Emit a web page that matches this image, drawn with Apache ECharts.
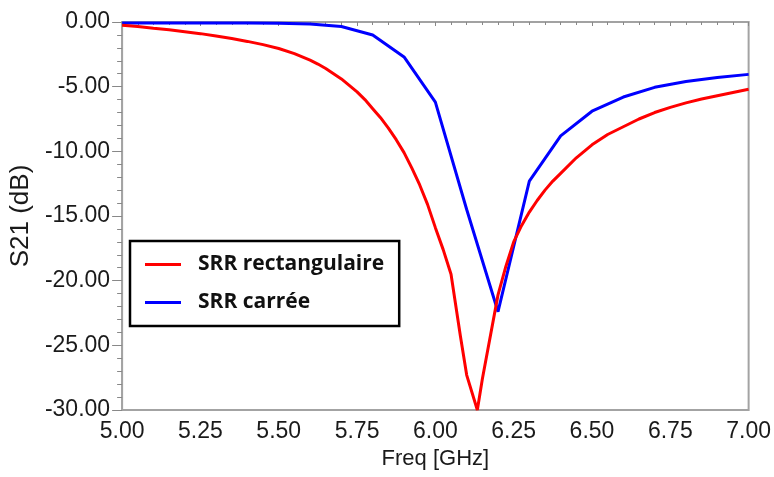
<!DOCTYPE html>
<html>
<head>
<meta charset="utf-8">
<script src="https://cdn.jsdelivr.net/npm/echarts@6/dist/echarts.min.js"></script>
<style>
html,body{margin:0;padding:0;background:#fff;}
#chart{width:774px;height:477px;}
</style>
</head>
<body>
<div id="chart"></div>
<script>
// Series names
const seriesNames = ['SRR rectangulaire', 'SRR carrée'];

// SRR rectangulaire (red)
const freqRect = [5.00,5.05,5.10,5.15,5.20,5.25,5.30,5.35,5.40,5.45,5.50,5.55,5.60,5.625,5.65,5.675,5.70,5.725,5.75,5.775,5.80,5.825,5.85,5.875,5.90,5.925,5.95,5.975,6.00,6.025,6.05,6.08,6.10,6.134,6.15,6.20,6.225,6.25,6.275,6.30,6.325,6.35,6.375,6.40,6.45,6.50,6.55,6.60,6.65,6.70,6.75,6.80,6.85,6.90,6.95,7.00];
const s21Rect  = [-0.25,-0.35,-0.48,-0.6,-0.75,-0.9,-1.08,-1.28,-1.5,-1.75,-2.05,-2.45,-2.95,-3.25,-3.6,-4.0,-4.4,-4.9,-5.4,-6.0,-6.7,-7.4,-8.2,-9.1,-10.1,-11.3,-12.6,-14.1,-15.9,-17.6,-19.5,-24.3,-27.3,-30.0,-27.6,-21.1,-18.9,-17.0,-15.75,-14.7,-13.8,-13.0,-12.3,-11.7,-10.5,-9.5,-8.7,-8.1,-7.5,-7.0,-6.6,-6.25,-5.95,-5.7,-5.45,-5.2];

// SRR carrée (blue)
const freqSq = [5.00,5.10,5.20,5.30,5.40,5.50,5.60,5.70,5.80,5.90,6.00,6.10,6.20,6.30,6.40,6.50,6.60,6.70,6.80,6.90,7.00];
const s21Sq  = [-0.08,-0.08,-0.08,-0.08,-0.08,-0.1,-0.15,-0.35,-1.0,-2.7,-6.2,-14.5,-22.4,-12.3,-8.8,-6.9,-5.8,-5.05,-4.6,-4.3,-4.05];

// Axis ticks
const xMin = 5.00, xMax = 7.00, xStep = 0.25;
const yMin = -30, yMax = 0, yStep = 5;

const zip = (xs, ys) => xs.map((x, i) => [x, ys[i]]);

const chart = echarts.init(document.getElementById('chart'), null, {renderer: 'canvas'});
const axisGray = '#a3a3a3';
const labelFont = 'Liberation Sans, Arial, sans-serif';

chart.setOption({
  backgroundColor: '#ffffff',
  animation: false,
  grid: {left: 115, right: 24, top: 22, bottom: 67, show: true, borderColor: axisGray, borderWidth: 2, backgroundColor: '#fff'},
  legend: {
    data: seriesNames,
    orient: 'vertical',
    left: 130, top: 241,
    padding: [13, 15, 13, 15],
    itemGap: 17,
    itemWidth: 36, itemHeight: 3,
    icon: 'rect',
    borderColor: '#000', borderWidth: 2.5,
    backgroundColor: '#fff',
    textStyle: {fontFamily: 'Open Sans, Lato, sans-serif', fontWeight: 'bold', fontSize: 21, color: '#111', padding: [0, 0, 0, 12]}
  },
  xAxis: {
    type: 'value', min: xMin, max: xMax, interval: xStep,
    name: 'Freq [GHz]', nameLocation: 'middle', nameGap: 37,
    nameTextStyle: {fontFamily: labelFont, fontSize: 22, color: '#1a1a1a'},
    axisLine: {show: true, lineStyle: {color: axisGray, width: 1.5}},
    axisTick: {show: true, length: 4, lineStyle: {color: '#888'}},
    minorTick: {show: true, splitNumber: 5, length: 3, lineStyle: {color: '#888'}},
    splitLine: {show: false},
    axisLabel: {formatter: v => v.toFixed(2), fontFamily: labelFont, fontSize: 23, color: '#1a1a1a', margin: 10}
  },
  yAxis: {
    type: 'value', min: yMin, max: yMax, interval: yStep,
    name: 'S21 (dB)', nameLocation: 'middle', nameGap: 82, nameRotate: 90,
    nameTextStyle: {fontFamily: labelFont, fontSize: 26, color: '#1a1a1a'},
    axisLine: {show: true, lineStyle: {color: axisGray, width: 1.5}},
    axisTick: {show: true, length: 10, lineStyle: {color: '#888'}},
    minorTick: {show: true, splitNumber: 5, length: 5, lineStyle: {color: '#888'}},
    splitLine: {show: false},
    axisLabel: {formatter: v => v.toFixed(2), fontFamily: labelFont, fontSize: 23, color: '#1a1a1a', margin: 12}
  },
  series: [
    {name: seriesNames[1], type: 'line', data: zip(freqSq, s21Sq), showSymbol: false, smooth: false,
     lineStyle: {color: '#0000ff', width: 3}, itemStyle: {color: '#0000ff'}, z: 2},
    {name: seriesNames[0], type: 'line', data: zip(freqRect, s21Rect), showSymbol: false, smooth: false,
     lineStyle: {color: '#ff0000', width: 3}, itemStyle: {color: '#ff0000'}, z: 3}
  ]
});
</script>
</body>
</html>
